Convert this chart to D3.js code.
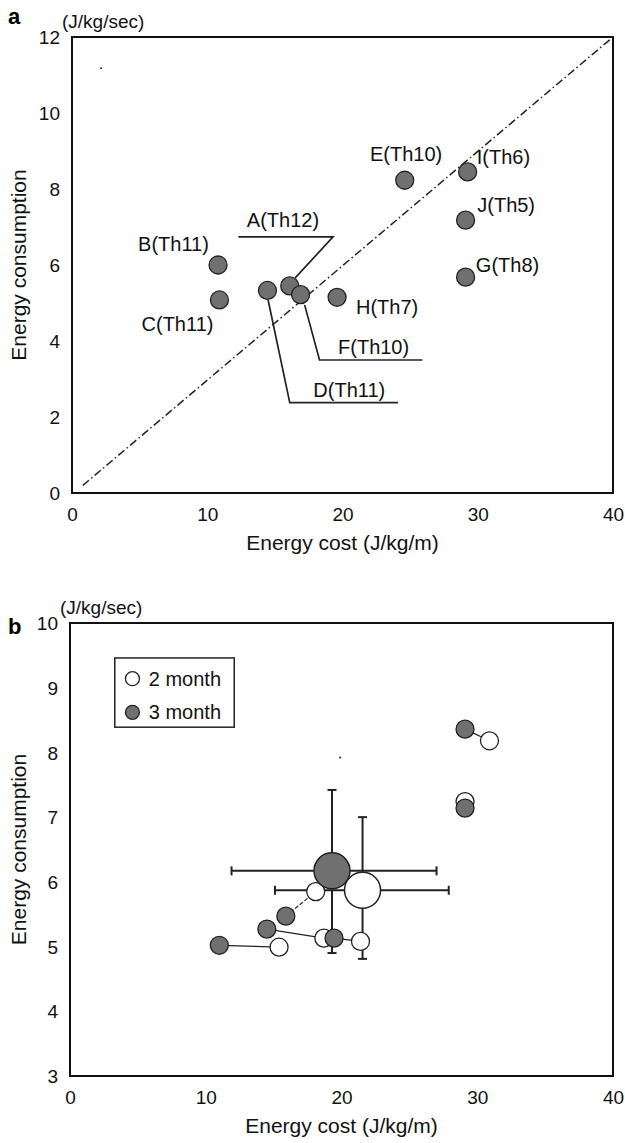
<!DOCTYPE html>
<html>
<head>
<meta charset="utf-8">
<script src="https://cdn.jsdelivr.net/npm/d3@7"></script>
<style>
  body { margin: 0; background: #fff; }
  svg { display: block; font-family: "Liberation Sans", Arial, sans-serif; }
  .tick text { font-size: 19px; fill: #111; }
  .frame { fill: none; stroke: #111; stroke-width: 2; }
</style>
</head>
<body>
<div id="chart"></div>
<script>
// panel a: individual horses
const labelsA = ["A(Th12)", "B(Th11)", "C(Th11)", "D(Th11)", "E(Th10)", "F(Th10)", "G(Th8)", "H(Th7)", "I(Th6)", "J(Th5)"];
const costA = [16.1, 10.8, 10.9, 14.45, 24.6, 16.9, 29.1, 19.6, 29.25, 29.1];
const consA = [5.45, 6.0, 5.08, 5.33, 8.23, 5.22, 5.68, 5.15, 8.45, 7.18];

// panel b: 2 month vs 3 month
const cost2 = [15.4, 18.7, 18.1, 21.4, 30.9, 29.1];
const cons2 = [4.99, 5.13, 5.85, 5.08, 8.18, 7.24];
const cost3 = [11.0, 14.5, 15.9, 19.45, 29.1, 29.1];
const cons3 = [5.02, 5.27, 5.47, 5.13, 8.36, 7.14];

// means with error bars [2 month, 3 month]
const meanCost = [21.55, 19.3];
const meanCons = [5.87, 6.17];
const costLo = [15.1, 11.9];
const costHi = [27.9, 27.0];
const consLo = [4.81, 4.9];
const consHi = [7.0, 7.42];

const xTicks = [0, 10, 20, 30, 40];
const yTicksA = [0, 2, 4, 6, 8, 10, 12];
const yTicksB = [3, 4, 5, 6, 7, 8, 9, 10];
const legendLabels = ["2 month", "3 month"];

const W = 625, H = 1143;
const svg = d3.select("#chart").append("svg").attr("width", W).attr("height", H);

const GRAY = "#707070", DARK = "#222";

function panel(box, yDomain, yTicks, letter) {
    const x = d3.scaleLinear().domain([0, 40]).range([box.left, box.right]);
    const y = d3.scaleLinear().domain(yDomain).range([box.bottom, box.top]);
    const g = svg.append("g");

    g.append("g")
        .attr("transform", `translate(${box.left - 9},0)`)
        .call(d3.axisLeft(y).tickValues(yTicks).tickSize(0).tickFormat(d3.format("d")))
        .call(a => a.select(".domain").remove())
        .selectAll("text").attr("dy", "0.35em");

    g.append("g")
        .attr("transform", `translate(0,${box.bottom + 11})`)
        .call(d3.axisBottom(x).tickValues(xTicks).tickSize(0))
        .call(a => a.select(".domain").remove());

    g.append("rect").attr("class", "frame")
        .attr("x", box.left).attr("y", box.top)
        .attr("width", box.right - box.left).attr("height", box.bottom - box.top);

    g.append("text").text("Energy cost (J/kg/m)")
        .attr("x", (box.left + box.right) / 2).attr("y", box.bottom + 57)
        .attr("text-anchor", "middle").style("font-size", "21px").attr("fill", "#111");

    g.append("text").text("Energy consumption")
        .attr("transform", `translate(26,${(box.top + box.bottom) / 2}) rotate(-90)`)
        .attr("text-anchor", "middle").style("font-size", "21px").attr("fill", "#111");

    g.append("text").text("(J/kg/sec)")
        .attr("x", box.left - 10).attr("y", box.top - 9)
        .style("font-size", "19px").attr("fill", "#111");

    g.append("text").text(letter)
        .attr("x", 8).attr("y", letter === "a" ? box.top - 13 : box.top + 11)
        .style("font-size", "22px").style("font-weight", "bold");

    return {g, x, y};
}

// ---------- panel a ----------
const pa = panel({left: 72, right: 613, top: 37, bottom: 493}, [0, 12], yTicksA, "a");

// reference line
pa.g.append("line")
    .attr("x1", pa.x(0.8)).attr("y1", pa.y(0.2))
    .attr("x2", pa.x(40)).attr("y2", pa.y(12))
    .attr("stroke", DARK).attr("stroke-width", 1.5)
    .attr("stroke-dasharray", "8,3,1.5,3");

// leader lines for crowded points (A, D, F)
const leaders = [
    [[12.3, 6.74], [19.3, 6.74], [16.5, 5.66]],
    [[14.5, 5.08], [16.1, 2.38], [24.1, 2.38]],
    [[17.2, 4.95], [18.3, 3.5], [25.9, 3.5]]
];
const lineA = d3.line().x(d => pa.x(d[0])).y(d => pa.y(d[1]));
pa.g.selectAll("path.leader").data(leaders).enter().append("path")
    .attr("class", "leader").attr("d", lineA)
    .attr("fill", "none").attr("stroke", DARK).attr("stroke-width", 1.7);

const order = [3, 0, 5, 1, 2, 7, 4, 8, 9, 6];
pa.g.selectAll("circle.pt").data(order).enter().append("circle")
    .attr("class", "pt")
    .attr("cx", i => pa.x(costA[i])).attr("cy", i => pa.y(consA[i]))
    .attr("r", 9).attr("fill", GRAY).attr("stroke", DARK).attr("stroke-width", 1.3);

// label anchor positions in data units
const labelPos = [[15.6, 7.18], [7.5, 6.56], [7.8, 4.44], [20.5, 2.71], [24.7, 8.93],
                  [22.3, 3.85], [32.2, 5.99], [23.3, 4.89], [31.9, 8.84], [32.1, 7.57]];
pa.g.selectAll("text.lbl").data(labelsA).enter().append("text")
    .attr("class", "lbl").text(d => d)
    .attr("x", (d, i) => pa.x(labelPos[i][0])).attr("y", (d, i) => pa.y(labelPos[i][1]))
    .attr("dy", "0.35em").attr("text-anchor", "middle")
    .style("font-size", "20px").attr("fill", "#111");

// scan speck
pa.g.append("circle").attr("cx", pa.x(2.15)).attr("cy", pa.y(11.18)).attr("r", 1).attr("fill", DARK);

// ---------- panel b ----------
const pb = panel({left: 70, right: 613, top: 623, bottom: 1076}, [3, 10], yTicksB, "b");

// error bars
const cap = 4.5;
meanCost.forEach((c, i) => {
    const eg = pb.g.append("g").attr("stroke", DARK).attr("stroke-width", 2);
    const cy = pb.y(meanCons[i]), cx = pb.x(c);
    eg.append("line").attr("x1", pb.x(costLo[i])).attr("x2", pb.x(costHi[i])).attr("y1", cy).attr("y2", cy);
    eg.append("line").attr("x1", pb.x(costLo[i])).attr("x2", pb.x(costLo[i])).attr("y1", cy - cap).attr("y2", cy + cap);
    eg.append("line").attr("x1", pb.x(costHi[i])).attr("x2", pb.x(costHi[i])).attr("y1", cy - cap).attr("y2", cy + cap);
    eg.append("line").attr("x1", cx).attr("x2", cx).attr("y1", pb.y(consLo[i])).attr("y2", pb.y(consHi[i]));
    eg.append("line").attr("x1", cx - cap).attr("x2", cx + cap).attr("y1", pb.y(consLo[i])).attr("y2", pb.y(consLo[i]));
    eg.append("line").attr("x1", cx - cap).attr("x2", cx + cap).attr("y1", pb.y(consHi[i])).attr("y2", pb.y(consHi[i]));
});

// pairing lines 3 month -> 2 month
pb.g.selectAll("line.pair").data(cost3).enter().append("line")
    .attr("class", "pair")
    .attr("x1", (d, i) => pb.x(cost3[i])).attr("y1", (d, i) => pb.y(cons3[i]))
    .attr("x2", (d, i) => pb.x(cost2[i])).attr("y2", (d, i) => pb.y(cons2[i]))
    .attr("stroke", DARK).attr("stroke-width", 1.2)
    .attr("stroke-dasharray", (d, i) => i === 2 ? "4,2" : null);

pb.g.selectAll("circle.open").data(cost2).enter().append("circle")
    .attr("class", "open")
    .attr("cx", (d, i) => pb.x(cost2[i])).attr("cy", (d, i) => pb.y(cons2[i]))
    .attr("r", 9).attr("fill", "#fff").attr("stroke", DARK).attr("stroke-width", 1.3);

pb.g.selectAll("circle.fill").data(cost3).enter().append("circle")
    .attr("class", "fill")
    .attr("cx", (d, i) => pb.x(cost3[i])).attr("cy", (d, i) => pb.y(cons3[i]))
    .attr("r", 9).attr("fill", GRAY).attr("stroke", DARK).attr("stroke-width", 1.3);

// group means: 3 month first, then 2 month on top
[1, 0].forEach(i => {
    pb.g.append("circle")
        .attr("cx", pb.x(meanCost[i])).attr("cy", pb.y(meanCons[i]))
        .attr("r", 18).attr("fill", i === 1 ? GRAY : "#fff")
        .attr("stroke", DARK).attr("stroke-width", 1.5);
});

pb.g.append("circle").attr("cx", pb.x(19.9)).attr("cy", pb.y(7.92)).attr("r", 1).attr("fill", DARK);

// legend
const lg = pb.g.append("g");
lg.append("rect")
    .attr("x", pb.x(3.3)).attr("y", pb.y(9.46))
    .attr("width", pb.x(12.1) - pb.x(3.3)).attr("height", pb.y(8.39) - pb.y(9.46))
    .attr("fill", "#fff").attr("stroke", DARK).attr("stroke-width", 1.5);
const legY = [9.14, 8.62];
lg.selectAll("circle").data(legendLabels).enter().append("circle")
    .attr("cx", pb.x(4.6)).attr("cy", (d, i) => pb.y(legY[i]))
    .attr("r", 7).attr("fill", (d, i) => i === 0 ? "#fff" : GRAY)
    .attr("stroke", DARK).attr("stroke-width", 1.3);
lg.selectAll("text").data(legendLabels).enter().append("text")
    .text(d => d)
    .attr("x", pb.x(5.8)).attr("y", (d, i) => pb.y(legY[i]))
    .attr("dy", "0.35em").style("font-size", "20px").attr("fill", "#111");
</script>
</body>
</html>
